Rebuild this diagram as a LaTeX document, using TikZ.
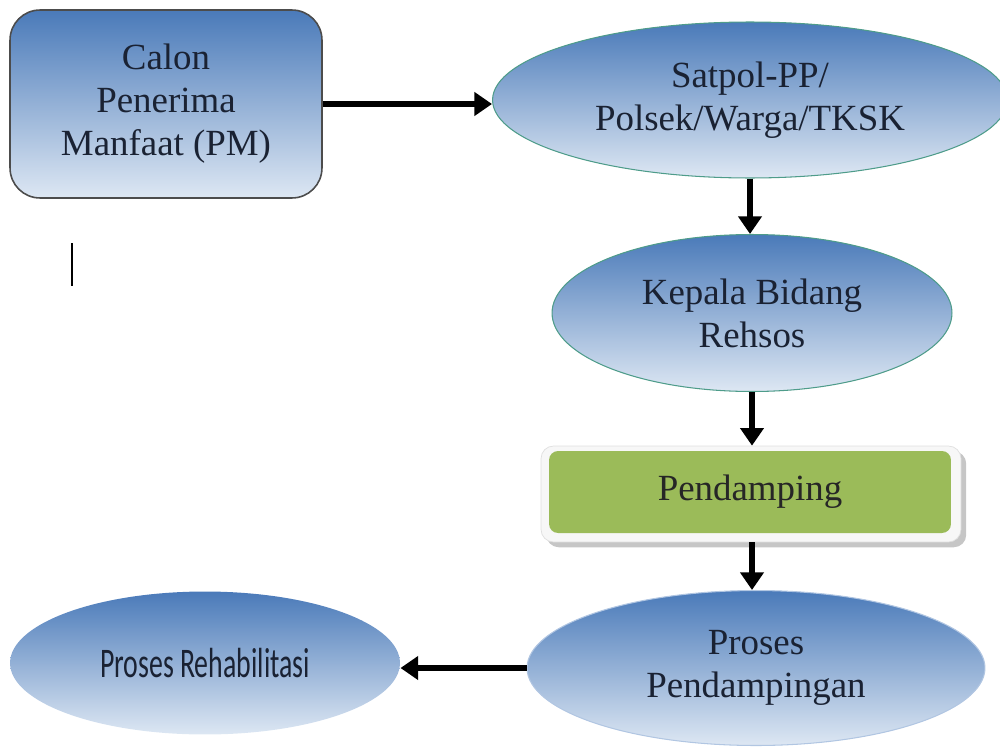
\documentclass[tikz,border=0pt]{standalone}
\usepackage{fontspec}
\setmainfont{Liberation Serif}
\newfontfamily\sempit[FakeStretch=0.66]{Carlito}
\usepackage{tikz}
\usetikzlibrary{shapes.geometric,arrows.meta,shadows}

\definecolor{birutua}{HTML}{4A7AB9}
\definecolor{birumuda}{HTML}{DDE7F3}
\definecolor{hijau}{HTML}{9BBB59}
\definecolor{tosca}{HTML}{4E9C8A}
\definecolor{tinta}{HTML}{1A2233}

\tikzset{
  kotak/.style={rectangle,rounded corners=0.6cm,top color=birutua,bottom color=birumuda,
    draw=black!70,line width=0.9pt,text=tinta,align=center,inner sep=0pt},
  elips/.style={ellipse,top color=birutua,bottom color=birumuda,draw=tosca,line width=0.6pt,
    text=tinta,align=center,inner sep=0pt},
  panah/.style={line width=3.4pt,-{Triangle[length=10pt,width=13pt]}}
}

\begin{document}
\begin{tikzpicture}[x=0.02cm,y=-0.02cm,font=\fontsize{21}{24.5}\selectfont]
			\useasboundingbox (0,0) rectangle (1000,747);
			\node[kotak,minimum width=6.24cm,minimum height=3.76cm] (calon) at (166,104) {Calon\\Penerima\\Manfaat (PM)};
			\node[elips,minimum width=10.3cm,minimum height=3.12cm] (satpol) at (750,100) {Satpol-PP/\\Polsek/Warga/TKSK};
			\node[elips,minimum width=8cm,minimum height=3.14cm] (kepala) at (752,313) {Kepala Bidang\\Rehsos};
			\node[rectangle,rounded corners=0.25cm,minimum width=8.4cm,minimum height=1.92cm,fill=gray!6,draw=gray!25,
				drop shadow={opacity=0.45,shadow xshift=3pt,shadow yshift=-3pt}] (bingkai) at (751,494) {};
			\node[rectangle,rounded corners=0.18cm,minimum width=8.04cm,minimum height=1.64cm,fill=hijau,text=black!85] (pendamping) at (750,492) {Pendamping};
			\node[elips,draw=birumuda!70!birutua,minimum width=9.16cm,minimum height=3.1cm] (prosespd) at (756,668) {Proses\\Pendampingan};
			\node[elips,draw=none,minimum width=7.8cm,minimum height=2.86cm,font=\sempit\fontsize{24}{28}\selectfont] (rehab) at (205,663) {Proses Rehabilitasi};
			\draw[panah] (calon.east) -- (calon.east -| satpol.west);
			\draw[panah] (satpol.south) -- (satpol.south |- kepala.north);
			\draw[panah] (kepala.south) -- (kepala.south |- bingkai.north);
			\draw[panah] (kepala.south |- bingkai.south) -- (kepala.south |- prosespd.north);
			\draw[panah] (prosespd.west) -- (prosespd.west -| rehab.east);
			\draw[line width=1.1pt] (72,243) -- (72,286);
		\end{tikzpicture}
\end{document}
